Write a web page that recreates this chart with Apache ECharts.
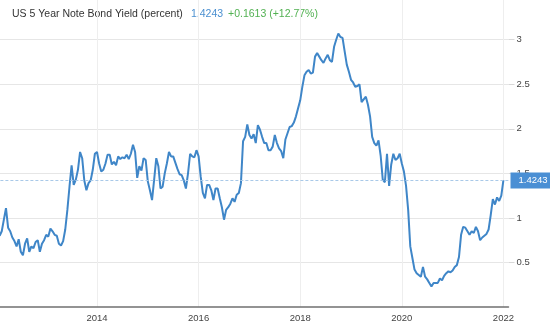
<!DOCTYPE html>
<html><head><meta charset="utf-8">
<script src="https://cdn.jsdelivr.net/npm/echarts/dist/echarts.min.js"></script>
<style>html,body{margin:0;padding:0;background:#fff}#c{width:550px;height:326px}</style>
</head><body><div id="c"></div>
<script>
const seriesName = 'US 5 Year Note Bond Yield (percent)';
const firstYear = 2012;
const firstHalfMonth = 2; // 2012 values start at the beginning of February
// semi-monthly readings (1st and 15th of each month)
const yield2012 = [0.80, 0.85, 0.98, 1.11, 0.89, 0.85, 0.78, 0.74, 0.68, 0.76, 0.62, 0.58, 0.71, 0.77, 0.62, 0.68, 0.66, 0.73, 0.75, 0.62, 0.71, 0.75];
const yield2013 = [0.81, 0.79, 0.88, 0.85, 0.81, 0.80, 0.71, 0.69, 0.74, 0.87, 1.09, 1.35, 1.59, 1.37, 1.43, 1.54, 1.74, 1.67, 1.42, 1.31, 1.39, 1.42, 1.54, 1.72];
const yield2014 = [1.74, 1.61, 1.52, 1.54, 1.61, 1.71, 1.71, 1.60, 1.63, 1.59, 1.69, 1.66, 1.68, 1.67, 1.71, 1.66, 1.72, 1.82, 1.74, 1.45, 1.58, 1.53, 1.67, 1.65];
const yield2015 = [1.41, 1.31, 1.20, 1.43, 1.67, 1.58, 1.33, 1.35, 1.50, 1.61, 1.74, 1.69, 1.69, 1.62, 1.55, 1.49, 1.48, 1.42, 1.33, 1.50, 1.72, 1.69, 1.68, 1.76];
const yield2016 = [1.69, 1.46, 1.28, 1.22, 1.37, 1.37, 1.31, 1.20, 1.33, 1.33, 1.22, 1.12, 0.98, 1.09, 1.12, 1.16, 1.22, 1.18, 1.26, 1.28, 1.39, 1.86, 1.91, 2.05];
const yield2017 = [1.93, 1.89, 1.94, 1.84, 2.04, 1.99, 1.91, 1.84, 1.84, 1.76, 1.76, 1.80, 1.93, 1.84, 1.78, 1.75, 1.67, 1.88, 1.95, 2.02, 2.03, 2.07, 2.14, 2.23];
const yield2018 = [2.32, 2.47, 2.60, 2.64, 2.66, 2.62, 2.63, 2.81, 2.85, 2.81, 2.77, 2.74, 2.79, 2.83, 2.77, 2.75, 2.92, 3.00, 3.07, 3.03, 3.02, 2.87, 2.72, 2.64];
const yield2019 = [2.55, 2.52, 2.47, 2.48, 2.50, 2.30, 2.33, 2.36, 2.27, 2.14, 1.91, 1.84, 1.81, 1.87, 1.70, 1.43, 1.40, 1.72, 1.36, 1.60, 1.72, 1.65, 1.67, 1.72];
const yield2020 = [1.61, 1.52, 1.36, 1.09, 0.68, 0.55, 0.42, 0.38, 0.36, 0.34, 0.45, 0.34, 0.31, 0.27, 0.23, 0.27, 0.27, 0.27, 0.32, 0.30, 0.35, 0.38, 0.40, 0.39];
const yield2021 = [0.41, 0.45, 0.47, 0.56, 0.81, 0.90, 0.89, 0.85, 0.81, 0.85, 0.83, 0.90, 0.85, 0.75, 0.78, 0.80, 0.82, 0.87, 1.03, 1.21, 1.15, 1.23, 1.19, 1.25];
const yield2022 = [1.4243];

const latestValue = 1.4243;
const changeValue = 0.1613;
const changePct = 12.77;

const xTickYears = [2014, 2016, 2018, 2020, 2022];
const yTickLabels = [0.5, 1, 1.5, 2, 2.5, 3];

const years = [yield2012, yield2013, yield2014, yield2015, yield2016, yield2017, yield2018, yield2019, yield2020, yield2021, yield2022];
const data = [];
years.forEach((arr, k) => {
  const off = k === 0 ? firstHalfMonth : 0;
  arr.forEach((v, i) => data.push([firstYear + k + (off + i) / 24, v]));
});

const FONT = "'Liberation Sans', Arial, sans-serif";
const chart = echarts.init(document.getElementById('c'), null, {renderer: 'canvas'});
chart.setOption({
  animation: false,
  backgroundColor: '#ffffff',
  grid: {left: -4.6, right: 41.5, top: 0, bottom: 19, containLabel: false, outerBoundsMode: 'none'},
  xAxis: {
    type: 'value', min: 2012, max: 2022.1, interval: 2,
    axisLine: {show: true, lineStyle: {color: '#707070', width: 1.5}},
    axisTick: {show: false},
    axisLabel: {
      show: true, margin: 6, color: '#444', fontSize: 9.5, fontFamily: FONT,
      showMinLabel: false, showMaxLabel: false,
      formatter: v => xTickYears.includes(Math.round(v * 1000) / 1000) ? String(v) : ''
    },
    splitLine: {show: true, showMinLine: false, showMaxLine: false, lineStyle: {color: '#eeeeee', width: 1}}
  },
  yAxis: {
    type: 'value', position: 'right', min: 0, max: 3.4456, interval: 0.5,
    axisLine: {show: false},
    axisTick: {show: true, length: 6, lineStyle: {color: '#d8d8d8'}},
    axisLabel: {
      show: true, margin: 8, color: '#444', fontSize: 9.5, fontFamily: FONT,
      showMinLabel: false, showMaxLabel: false,
      formatter: v => yTickLabels.includes(Math.round(v * 1000) / 1000) ? String(v) : ''
    },
    splitLine: {show: true, showMinLine: false, showMaxLine: false, lineStyle: {color: '#e6e6e6', width: 1}}
  },
  series: [{
    name: seriesName,
    type: 'line',
    data: data,
    showSymbol: false,
    symbol: 'none',
    lineStyle: {color: '#3f86c8', width: 2},
    itemStyle: {color: '#3f86c8'},
    markLine: {
      silent: true,
      symbol: 'none',
      data: [{yAxis: latestValue}],
      lineStyle: {type: [3, 2], color: '#a9c9e8', width: 1},
      label: {
        show: true, position: 'end', distance: 2,
        formatter: latestValue.toFixed(4),
        backgroundColor: '#4a8fd4', color: '#ffffff',
        fontSize: 9.5, fontFamily: FONT, lineHeight: 12,
        padding: [2, 5, 2, 8]
      }
    }
  }],
  graphic: [
    {type: 'text', left: 12, top: 9, style: {text: seriesName, fill: '#333333', font: '10.5px ' + FONT}},
    {type: 'text', left: 191, top: 9, style: {text: latestValue.toFixed(4), fill: '#4a8fd0', font: '10.5px ' + FONT}},
    {type: 'text', left: 228, top: 9, style: {text: '+' + changeValue.toFixed(4) + ' (+' + changePct.toFixed(2) + '%)', fill: '#52b152', font: '10.5px ' + FONT}}
  ]
});
</script>
</body></html>
